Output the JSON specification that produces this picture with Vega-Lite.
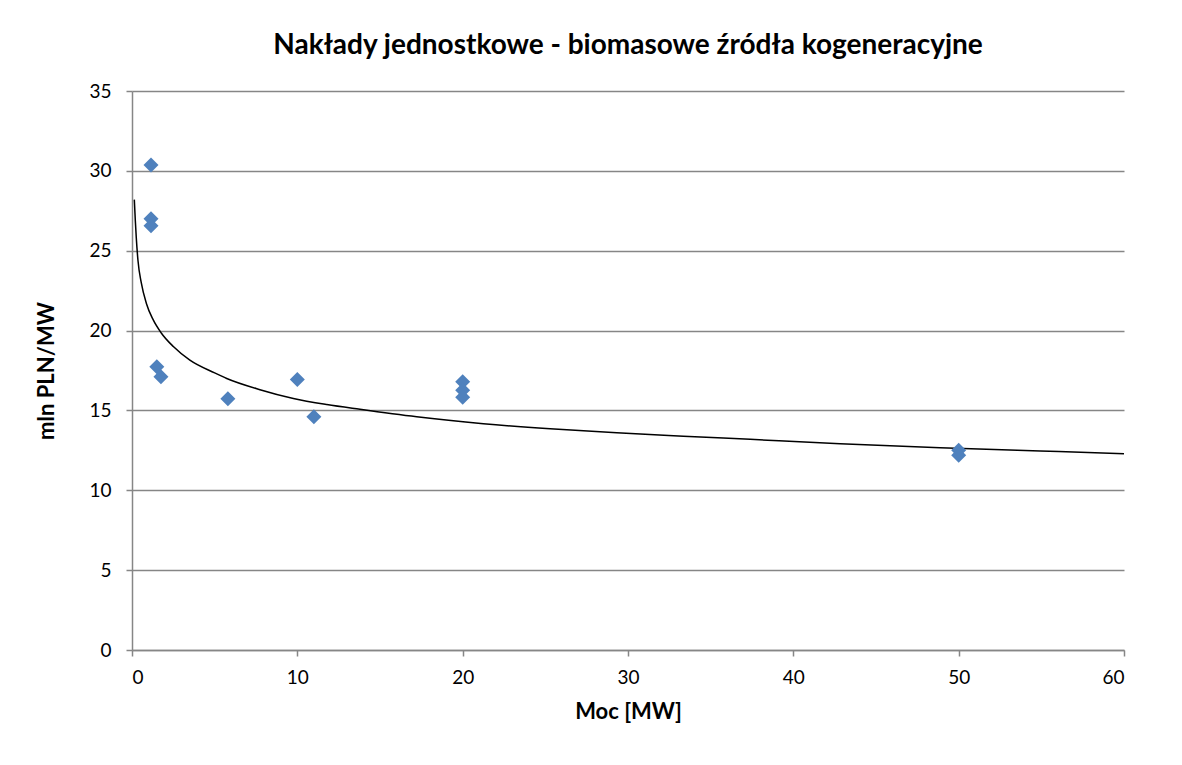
{
  "$schema": "https://vega.github.io/schema/vega-lite/v6.json",
  "autosize": "none",
  "width": 992,
  "height": 559,
  "padding": {"left": 132, "top": 91, "right": 58, "bottom": 115},
  "background": "white",
  "config": {
    "view": {"stroke": null},
    "font": "Lato",
    "axis": {
      "labelFont": "Lato",
      "labelFontSize": 19,
      "labelColor": "#000000",
      "titleFont": "Lato",
      "titleFontSize": 22,
      "titleFontWeight": "bold",
      "titleColor": "#000000",
      "domainColor": "#868686",
      "domainWidth": 1.5,
      "tickColor": "#868686",
      "tickWidth": 1.5,
      "tickSize": 6,
      "gridColor": "#868686",
      "gridWidth": 1.3
    }
  },
  "title": {
    "text": "Nakłady jednostkowe - biomasowe źródła kogeneracyjne",
    "font": "Lato",
    "fontSize": 28,
    "fontWeight": "bold",
    "color": "#000000",
    "anchor": "middle",
    "offset": 22
  },
  "datasets": {
    "points": [
      {"moc": 1.15, "naklad": 30.36},
      {"moc": 1.15, "naklad": 27.0},
      {"moc": 1.15, "naklad": 26.56},
      {"moc": 1.5, "naklad": 17.73},
      {"moc": 1.75, "naklad": 17.11},
      {"moc": 5.8, "naklad": 15.73},
      {"moc": 10, "naklad": 16.94},
      {"moc": 11, "naklad": 14.6},
      {"moc": 20, "naklad": 16.79},
      {"moc": 20, "naklad": 16.27},
      {"moc": 20, "naklad": 15.83},
      {"moc": 50, "naklad": 12.5},
      {"moc": 50, "naklad": 12.2}
    ],
    "trend": [
      {"moc": 0.14, "naklad": 28.2},
      {"moc": 0.2, "naklad": 26.9},
      {"moc": 0.26, "naklad": 25.8},
      {"moc": 0.36, "naklad": 24.4},
      {"moc": 0.56, "naklad": 23.0},
      {"moc": 0.87, "naklad": 21.7},
      {"moc": 1.27, "naklad": 20.7},
      {"moc": 1.77, "naklad": 19.85},
      {"moc": 2.5, "naklad": 19.0},
      {"moc": 3.5, "naklad": 18.15},
      {"moc": 5.0, "naklad": 17.35},
      {"moc": 5.73, "naklad": 17.0},
      {"moc": 7.74, "naklad": 16.3},
      {"moc": 9.76, "naklad": 15.75},
      {"moc": 11.78, "naklad": 15.37},
      {"moc": 13.79, "naklad": 15.07},
      {"moc": 17.22, "naklad": 14.6},
      {"moc": 21.25, "naklad": 14.17},
      {"moc": 25.29, "naklad": 13.85},
      {"moc": 29.32, "naklad": 13.6},
      {"moc": 33.35, "naklad": 13.39},
      {"moc": 37.39, "naklad": 13.19},
      {"moc": 42.83, "naklad": 12.92},
      {"moc": 48.88, "naklad": 12.67},
      {"moc": 54.93, "naklad": 12.46},
      {"moc": 60, "naklad": 12.29}
    ]
  },
  "layer": [
    {
      "data": {"name": "trend"},
      "mark": {"type": "line", "color": "#000000", "strokeWidth": 1.5, "interpolate": "monotone"},
      "encoding": {
        "x": {
          "field": "moc", "type": "quantitative",
          "scale": {"domain": [0, 60], "nice": false, "zero": true},
          "axis": {"title": "Moc [MW]", "values": [0, 10, 20, 30, 40, 50, 60], "grid": false, "labelPadding": 12, "titlePadding": 14}
        },
        "y": {
          "field": "naklad", "type": "quantitative",
          "scale": {"domain": [0, 35], "nice": false},
          "axis": {"title": "mln PLN/MW", "values": [0, 5, 10, 15, 20, 25, 30, 35], "grid": true, "labelPadding": 15, "titlePadding": 30}
        }
      }
    },
    {
      "data": {"name": "points"},
      "mark": {"type": "point", "shape": "diamond", "filled": true, "color": "#4F81BD", "size": 225, "opacity": 1},
      "encoding": {
        "x": {"field": "moc", "type": "quantitative"},
        "y": {"field": "naklad", "type": "quantitative"}
      }
    }
  ]
}
